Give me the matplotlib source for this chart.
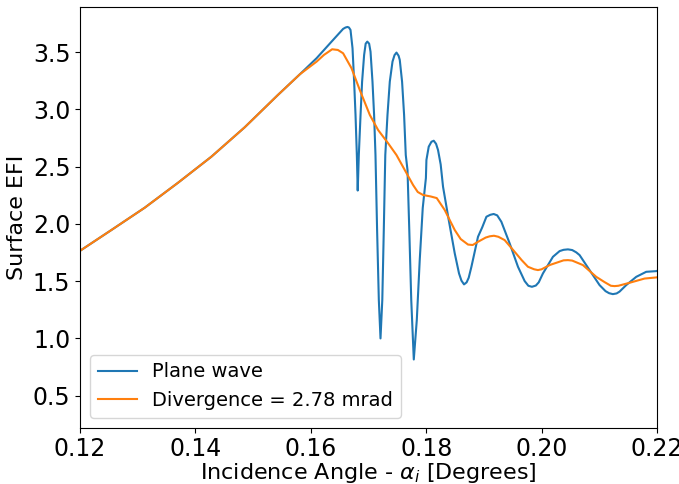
import matplotlib
matplotlib.use("Agg")
import matplotlib.pyplot as plt

# plane-wave surface EFI vs incidence angle (degrees)
plane_angle = [
    0.12000, 0.12542, 0.13120, 0.13697, 0.14274, 0.14852, 0.15429, 0.15810,
    0.16099, 0.16386, 0.16559, 0.16600, 0.16635, 0.16660, 0.16687, 0.16722,
    0.16750, 0.16774, 0.16797, 0.16812, 0.16831, 0.16861, 0.16888, 0.16923,
    0.16950, 0.16978, 0.17010, 0.17034, 0.17068, 0.17096, 0.17120, 0.17148,
    0.17178, 0.17207, 0.17238, 0.17264, 0.17290, 0.17328, 0.17368, 0.17415,
    0.17450, 0.17484, 0.17520, 0.17541, 0.17581, 0.17616, 0.17645, 0.17675,
    0.17706, 0.17740, 0.17784, 0.17836, 0.17887, 0.17939, 0.17994, 0.18003,
    0.18043, 0.18090, 0.18130, 0.18170, 0.18204, 0.18250, 0.18291, 0.18390,
    0.18494, 0.18568, 0.18610, 0.18655, 0.18700, 0.18736, 0.18783, 0.18897,
    0.18970, 0.19043, 0.19110, 0.19169, 0.19230, 0.19302, 0.19446, 0.19590,
    0.19706, 0.19770, 0.19832, 0.19900, 0.19950, 0.20023, 0.20196, 0.20312,
    0.20380, 0.20456, 0.20530, 0.20600, 0.20658, 0.20831, 0.21004, 0.21108,
    0.21170, 0.21235, 0.21300, 0.21351, 0.21467, 0.21640, 0.21813, 0.21991,
    0.22000,
]
plane_efi = [
    1.766, 1.947, 2.142, 2.360, 2.587, 2.844, 3.127, 3.308,
    3.448, 3.608, 3.704, 3.716, 3.721, 3.716, 3.695, 3.535,
    3.243, 2.952, 2.602, 2.292, 2.602, 2.952, 3.243, 3.476,
    3.575, 3.593, 3.575, 3.505, 3.243, 2.952, 2.602, 1.947,
    1.335, 1.000, 1.335, 1.947, 2.602, 2.952, 3.243, 3.418,
    3.475, 3.497, 3.470, 3.433, 3.243, 2.952, 2.602, 2.471,
    1.947, 1.335, 0.816, 1.160, 1.684, 2.139, 2.401, 2.559,
    2.675, 2.718, 2.727, 2.700, 2.646, 2.520, 2.325, 2.034,
    1.743, 1.568, 1.505, 1.472, 1.490, 1.530, 1.626, 1.888,
    1.970, 2.063, 2.080, 2.087, 2.075, 2.019, 1.830, 1.626,
    1.501, 1.460, 1.451, 1.462, 1.490, 1.568, 1.713, 1.763,
    1.774, 1.778, 1.772, 1.752, 1.728, 1.597, 1.466, 1.413,
    1.395, 1.387, 1.393, 1.409, 1.466, 1.538, 1.582, 1.588,
    1.590,
]

# beam with 2.78 mrad divergence
div_angle = [
    0.12000, 0.12542, 0.13120, 0.13697, 0.14274, 0.14852, 0.15429, 0.15810,
    0.16099, 0.16225, 0.16369, 0.16468, 0.16559, 0.16705, 0.16848, 0.17022,
    0.17165, 0.17339, 0.17484, 0.17628, 0.17772, 0.17853, 0.17945, 0.18078,
    0.18182, 0.18320, 0.18407, 0.18494, 0.18597, 0.18724, 0.18805, 0.18897,
    0.19030, 0.19100, 0.19174, 0.19250, 0.19359, 0.19532, 0.19654, 0.19763,
    0.19870, 0.19936, 0.20000, 0.20139, 0.20380, 0.20456, 0.20530, 0.20715,
    0.20947, 0.21091, 0.21200, 0.21264, 0.21330, 0.21524, 0.21784, 0.21991,
    0.22000,
]
div_efi = [
    1.766, 1.947, 2.142, 2.360, 2.587, 2.844, 3.127, 3.308,
    3.418, 3.476, 3.526, 3.520, 3.491, 3.360, 3.170, 2.952,
    2.821, 2.705, 2.602, 2.471, 2.340, 2.279, 2.253, 2.240,
    2.226, 2.122, 2.034, 1.947, 1.868, 1.820, 1.816, 1.844,
    1.881, 1.892, 1.897, 1.888, 1.859, 1.757, 1.684, 1.626,
    1.604, 1.597, 1.604, 1.641, 1.682, 1.684, 1.680, 1.641,
    1.538, 1.492, 1.460, 1.457, 1.460, 1.486, 1.523, 1.533,
    1.534,
]

fig, ax = plt.subplots(figsize=(6.79, 4.84), dpi=100)
fig.subplots_adjust(left=0.118, right=0.9676, bottom=0.1163, top=0.985)

ax.plot(plane_angle, plane_efi, color="tab:blue", lw=1.5, label="Plane wave")
ax.plot(div_angle, div_efi, color="tab:orange", lw=1.5,
        label="Divergence = 2.78 mrad")

ax.set_xlim(0.12, 0.22)
ax.set_ylim(0.22, 3.893)
ax.set_xticks([0.12, 0.14, 0.16, 0.18, 0.20, 0.22])
ax.set_xticklabels(["0.12", "0.14", "0.16", "0.18", "0.20", "0.22"])
ax.set_yticks([0.5, 1.0, 1.5, 2.0, 2.5, 3.0, 3.5])
ax.tick_params(labelsize=17)
ax.set_xlabel(r"Incidence Angle - $\alpha_i$ [Degrees]", fontsize=16,
              labelpad=-0.5)
ax.set_ylabel("Surface EFI", fontsize=16)
ax.legend(loc="lower left", fontsize=14)

fig.savefig("out.png", dpi=100)
